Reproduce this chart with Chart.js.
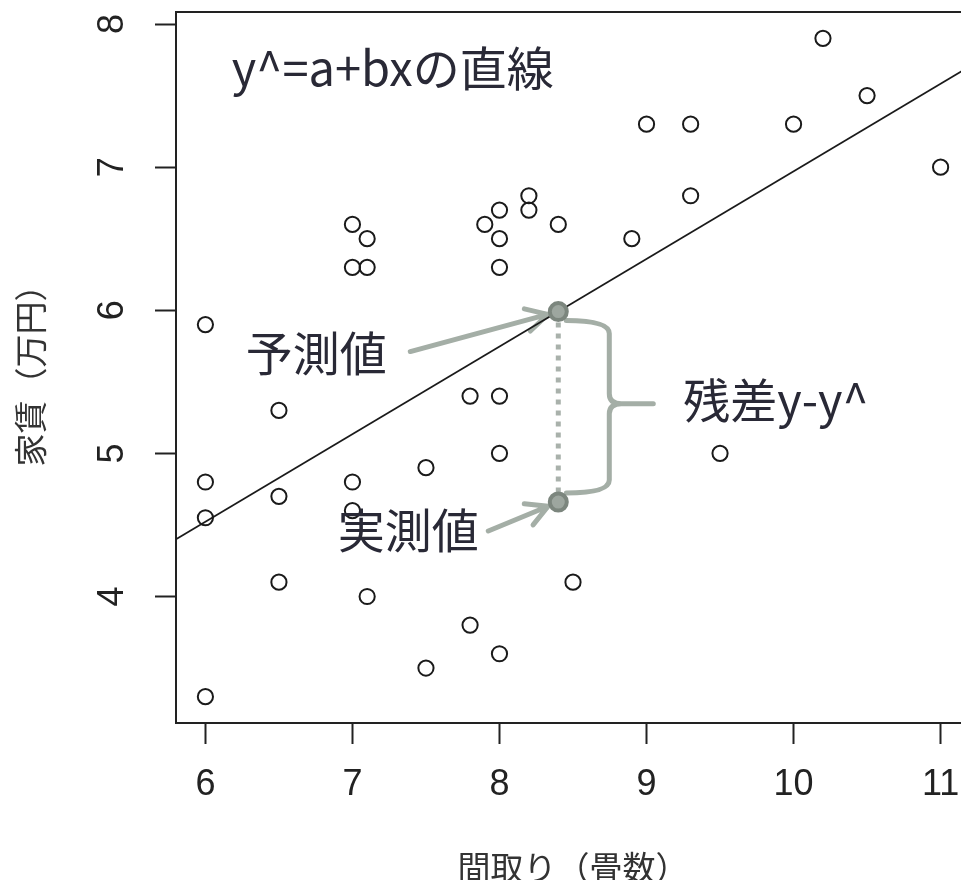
<!DOCTYPE html>
<html>
<head>
<meta charset="utf-8">
<script src="https://cdn.jsdelivr.net/npm/chart.js@4/dist/chart.umd.min.js"></script>
<style>
  html, body { margin: 0; padding: 0; background: #fff; overflow: hidden; }
  #wrap { width: 961px; height: 880px; overflow: hidden; }
</style>
</head>
<body>
<div id="wrap"><canvas id="rentChart" width="976" height="890"></canvas></div>
<script>
// 間取り（畳数）と家賃（万円）
const madori = [6, 6, 6, 6, 6.5, 6.5, 6.5, 7, 7, 7, 7, 7.1, 7.1, 7.1, 7.5, 7.5, 7.8, 7.8, 7.9,
  8, 8, 8, 8, 8, 8, 8.2, 8.2, 8.4, 8.5, 8.9, 9, 9.3, 9.3, 9.5, 10, 10.2, 10.5, 11];
const yachin = [5.9, 4.8, 4.55, 3.3, 5.3, 4.7, 4.1, 6.6, 6.3, 4.8, 4.6, 6.5, 6.3, 4.0, 4.9, 3.5, 5.4, 3.8, 6.6,
  6.7, 6.5, 6.3, 5.4, 5.0, 3.6, 6.8, 6.7, 6.6, 4.1, 6.5, 7.3, 7.3, 6.8, 5.0, 7.3, 7.9, 7.5, 7.0];
// 注目する物件（実測値）
const pickX = [8.4];
const pickY = [4.66];
// y^ = a + bx
const coef = [0.85, 0.612];
const xTicks = [6, 7, 8, 9, 10, 11];
const yTicks = [4, 5, 6, 7, 8];
const xRange = [5.8, 11.2];
const yRange = [3.116, 8.084];

const yhat = x => coef[0] + coef[1] * x;
const pts = madori.map((x, i) => ({x: x, y: yachin[i]}));
const pair = [{x: pickX[0], y: yhat(pickX[0])}, {x: pickX[0], y: pickY[0]}];

const inkColor = '#292936';
const guideColor = '#a4aea6';
const cjk = '"Noto Sans CJK JP", sans-serif';

function arrow(ctx, x0, y0, cx, cy, gap) {
  const ang = Math.atan2(cy - y0, cx - x0);
  const x1 = cx - gap * Math.cos(ang), y1 = cy - gap * Math.sin(ang);
  ctx.beginPath();
  ctx.moveTo(x0, y0);
  ctx.lineTo(x1, y1);
  ctx.moveTo(x1 + 24 * Math.cos(ang + Math.PI - 0.5), y1 + 24 * Math.sin(ang + Math.PI - 0.5));
  ctx.lineTo(x1, y1);
  ctx.lineTo(x1 + 24 * Math.cos(ang + Math.PI + 0.5), y1 + 24 * Math.sin(ang + Math.PI + 0.5));
  ctx.stroke();
}

const annotate = {
  id: 'annotate',
  beforeDatasetsDraw(chart) {
    const {ctx, chartArea: ca, scales: {x, y}} = chart;
    ctx.save();
    ctx.strokeStyle = '#222';
    ctx.lineWidth = 2;
    ctx.strokeRect(ca.left, ca.top, ca.right - ca.left, ca.bottom - ca.top);

    const px = x.getPixelForValue(pickX[0]);
    const ph = y.getPixelForValue(yhat(pickX[0]));
    const po = y.getPixelForValue(pickY[0]);
    ctx.strokeStyle = guideColor;
    ctx.lineWidth = 5;
    ctx.lineCap = 'round';
    ctx.lineJoin = 'round';
    arrow(ctx, px - 148, ph + 40, px, ph, 11);
    arrow(ctx, px - 70, po + 29, px, po, 11);

    // 中括弧
    const bx = px + 51, mid = (ph + po) / 2 - 3, tip = px + 95;
    ctx.beginPath();
    ctx.moveTo(px + 8, ph + 9);
    ctx.quadraticCurveTo(bx, ph + 9, bx, ph + 22);
    ctx.lineTo(bx, mid - 10);
    ctx.quadraticCurveTo(bx, mid, bx + 12, mid);
    ctx.lineTo(tip, mid);
    ctx.moveTo(bx + 12, mid);
    ctx.quadraticCurveTo(bx, mid, bx, mid + 10);
    ctx.lineTo(bx, po - 22);
    ctx.quadraticCurveTo(bx, po - 9, px + 8, po - 9);
    ctx.stroke();
    ctx.restore();
  },
  afterDatasetsDraw(chart) {
    const {ctx, scales: {x, y}} = chart;
    const px = x.getPixelForValue(pickX[0]);
    const ph = y.getPixelForValue(yhat(pickX[0]));
    const po = y.getPixelForValue(pickY[0]);
    ctx.save();
    ctx.fillStyle = inkColor;
    ctx.font = '47px ' + cjk;
    ctx.textBaseline = 'middle';
    ctx.textAlign = 'left';
    ctx.fillText('y^=a+bxの直線', x.getPixelForValue(6.18), y.getPixelForValue(7.69));
    ctx.fillText('残差y-y^', px + 125, (ph + po) / 2 - 7);
    ctx.textAlign = 'center';
    ctx.fillText('予測値', px - 242, ph + 42);
    ctx.fillText('実測値', px - 150, po + 28);
    ctx.restore();
  }
};

new Chart(document.getElementById('rentChart'), {
  type: 'scatter',
  data: {
    datasets: [
      {
        label: '予測値・実測値',
        data: pair,
        pointRadius: 8.5,
        borderWidth: 4,
        borderColor: '#7c867e',
        backgroundColor: '#9da69f',
        order: 0
      },
      {
        label: '残差',
        data: pair,
        showLine: true,
        borderColor: '#a9b1ab',
        borderWidth: 5,
        borderDash: [5, 6],
        pointRadius: 0,
        order: 1
      },
      {
        label: '回帰直線',
        data: xRange.map(v => ({x: v, y: yhat(v)})),
        showLine: true,
        borderColor: '#1a1a1a',
        borderWidth: 1.8,
        pointRadius: 0,
        order: 2
      },
      {
        label: '物件',
        data: pts,
        pointRadius: 7.6,
        borderWidth: 2,
        borderColor: '#1a1a1a',
        backgroundColor: 'rgba(0,0,0,0)',
        order: 3
      }
    ]
  },
  options: {
    responsive: false,
    animation: false,
    events: [],
    layout: { autoPadding: false, padding: { top: 12, right: 6, left: 0, bottom: 0 } },
    plugins: { legend: { display: false }, tooltip: { enabled: false } },
    scales: {
      x: {
        type: 'linear',
        min: xRange[0],
        max: xRange[1],
        afterBuildTicks: s => { s.ticks = xTicks.map(v => ({value: v})); },
        afterFit: s => { s.height = 167; s.paddingLeft = 0; s.paddingRight = 0; },
        grid: { drawOnChartArea: false, drawTicks: true, tickLength: 21, tickWidth: 2, tickColor: '#222' },
        border: { display: true, color: '#222', width: 2 },
        ticks: {
          font: { family: '"Liberation Sans", sans-serif', size: 36 },
          color: '#222',
          padding: 19,
          maxRotation: 0,
          autoSkip: false
        },
        title: {
          display: true,
          text: '間取り（畳数）',
          font: { family: cjk, size: 33 },
          color: '#333',
          padding: { top: 0, bottom: 3 }
        }
      },
      y: {
        type: 'linear',
        min: yRange[0],
        max: yRange[1],
        afterBuildTicks: s => { s.ticks = yTicks.map(v => ({value: v})); },
        afterFit: s => { s.width = 176; s.paddingTop = 0; s.paddingBottom = 0; },
        grid: { drawOnChartArea: false, drawTicks: true, tickLength: 21, tickWidth: 2, tickColor: '#222' },
        border: { display: true, color: '#222', width: 2 },
        ticks: {
          font: { family: '"Liberation Sans", sans-serif', size: 36 },
          color: '#222',
          padding: 32,
          minRotation: 90,
          maxRotation: 90,
          crossAlign: 'center',
          autoSkip: false
        },
        title: {
          display: true,
          text: '家賃（万円）',
          font: { family: cjk, size: 33 },
          color: '#333',
          padding: { top: 11, bottom: 0 }
        }
      }
    }
  },
  plugins: [annotate]
});
</script>
</body>
</html>
